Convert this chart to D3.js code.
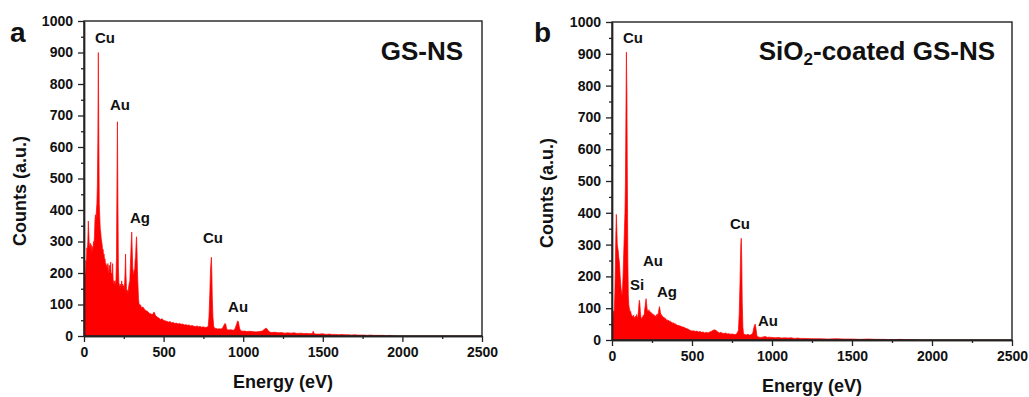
<!DOCTYPE html>
<html><head><meta charset="utf-8">
<script src="https://cdn.jsdelivr.net/npm/d3@7"></script>
<style>
body{margin:0;background:#fff}
svg{display:block}
text{font-family:"Liberation Sans",Arial,sans-serif;font-weight:bold;fill:#111}
</style>
</head><body>
<svg id="c" width="1029" height="397"></svg>
<script>
// ---- data: [energy (eV), counts] ----
const spectrumA = [
[0,175],[3,185],[6,200],[9,185],[12,240],[15,230],[18,280],[21,270],[24,300],[27,365],[30,330],[33,290],[36,280],[39,295],[42,270],[45,290],[48,260],[51,285],[54,265],[57,280],[60,300],[63,290],[66,320],[69,370],[72,385],[75,360],[78,400],[81,420],[84,480],[87,620],[90,900],[93,640],[96,420],[99,380],[102,340],[105,330],[108,310],[111,300],[114,290],[117,270],[120,275],[123,255],[126,260],[129,240],[132,245],[135,225],[138,230],[141,215],[144,225],[147,205],[150,230],[153,210],[156,195],[159,225],[162,200],[165,215],[168,235],[171,190],[174,200],[177,185],[180,230],[183,180],[186,170],[189,165],[192,175],[195,160],[198,170],[201,180],[204,250],[207,480],[210,680],[213,430],[216,220],[219,170],[222,160],[225,155],[228,165],[231,150],[234,160],[237,175],[240,155],[243,165],[246,150],[249,160],[252,145],[255,165],[258,200],[261,260],[264,190],[267,150],[270,140],[273,145],[276,135],[279,150],[282,160],[285,170],[288,175],[291,220],[294,260],[297,300],[300,330],[303,270],[306,220],[309,200],[312,190],[315,210],[318,200],[321,240],[324,250],[327,290],[330,315],[333,270],[336,200],[339,160],[342,120],[345,105],[348,98],[351,100],[354,95],[357,97],[360,90],
[370,92],[380,85],[390,80],[400,78],[410,72],[420,70],[430,68],[440,76],[450,64],[460,60],[470,57],[480,52],[490,55],[500,50],[510,48],[520,47],[530,44],[540,46],[550,42],[560,43],[570,40],[580,41],[590,38],[600,40],[610,37],[620,38],[630,35],[640,36],[650,34],[660,35],[670,32],[680,33],[690,31],[700,30],[710,32],[720,29],[730,30],[740,28],[750,29],[760,27],[770,28],[780,30],[785,60],[790,130],[795,215],[800,250],[803,200],[806,120],[810,60],[815,30],[820,25],[830,24],[840,22],[850,23],[860,22],[870,25],[880,35],[885,40],[890,38],[895,25],[900,20],[910,19],[920,20],[930,19],[940,18],[950,25],[960,40],[965,48],[970,45],[975,30],[980,20],[990,16],[1000,15],[1010,16],[1020,14],[1040,15],[1060,14],[1080,13],[1100,14],[1120,16],[1130,20],[1140,24],[1145,25],[1150,22],[1160,15],[1170,12],[1180,11],[1200,12],[1220,10],[1240,11],[1260,9],[1280,10],[1300,9],[1320,10],[1340,8],[1360,9],[1380,8],[1400,8],[1420,7],[1435,8],[1440,15],[1445,7],[1460,6],[1480,6],[1500,7],[1520,5],[1540,6],[1560,5],[1580,5],[1600,4],[1620,5],[1640,4],[1660,4],[1680,3],[1700,4],[1720,3],[1740,3],[1760,3],[1780,2],[1800,3],[1820,2],[1840,2],[1860,2],[1880,2],[1900,1],[1920,2],[1940,1],[1960,0],[2500,0]
];
const spectrumB = [
[0,75],[3,80],[6,70],[9,90],[12,85],[15,100],[18,150],[21,230],[24,330],[27,395],[30,350],[33,300],[36,290],[39,280],[42,260],[45,250],[48,230],[51,200],[54,180],[57,160],[60,150],[63,140],[66,160],[69,200],[72,250],[75,300],[78,350],[81,400],[84,500],[87,700],[90,905],[93,780],[96,500],[99,250],[102,140],[105,110],[108,100],[111,95],[114,85],[117,90],[120,78],[123,80],[126,72],[129,75],[132,70],[135,78],[138,65],[141,72],[144,68],[147,75],[150,70],[153,80],[156,72],[159,70],[162,75],[165,90],[168,110],[171,125],[174,115],[177,90],[180,75],[183,68],[186,65],[189,72],[192,70],[195,78],[198,72],[201,80],[204,95],[207,105],[210,120],[213,130],[216,115],[219,100],[222,90],[225,92],[228,88],[231,95],[234,85],[237,90],[240,82],[243,88],[246,80],[249,85],[252,78],[255,82],[258,76],[261,80],[264,74],[267,78],[270,72],[273,76],[276,70],[279,80],[282,75],[285,82],[288,78],[291,90],[294,98],[297,105],[300,95],[303,85],[306,78],[309,80],[312,74],[315,76],[320,70],[325,72],[330,66],[335,68],[340,62],[345,64],[350,60],[355,62],[360,57],[365,59],[370,55],[375,56],[380,52],[385,54],[390,50],[395,52],[400,48],[410,46],[420,45],[430,43],[440,41],[450,40],[460,37],[470,35],[480,33],[490,30],[500,28],[510,29],[520,27],[530,28],[540,25],[550,27],[560,24],[570,25],[580,22],[590,24],[600,22],[610,25],[620,27],[630,30],[640,32],[650,30],[660,26],[670,22],[680,24],[690,21],[700,20],[710,22],[720,19],[730,20],[740,18],[750,19],[760,18],[770,17],[780,20],[790,30],[795,80],[800,180],[805,300],[808,320],[811,250],[814,120],[818,40],[822,20],[830,17],[840,16],[850,18],[860,15],[870,17],[880,22],[885,35],[890,45],[895,50],[900,35],[905,15],[910,10],[920,9],[930,8],[940,9],[950,10],[960,11],[970,8],[980,9],[1000,8],[1020,7],[1040,8],[1060,6],[1080,7],[1100,6],[1120,7],[1140,5],[1160,6],[1180,5],[1200,5],[1250,4],[1300,4],[1350,3],[1400,4],[1450,3],[1500,3],[1550,2],[1600,3],[1650,2],[1700,2],[1750,1],[1800,2],[1850,1],[1900,1],[1920,0],[2500,0]
];
// peak annotations: [text, energy, counts] (anchor of text start / baseline)
const labelsA = [["Cu",69,930],["Au",163,717],["Ag",289,359],["Cu",747,295],["Au",905,76]];
const labelsB = [["Cu",69,933],["Au",194,233],["Si",112,157],["Ag",281,135],["Cu",737,349],["Au",912,44]];
const energyTicks = [0,500,1000,1500,2000,2500];
const energyMinor = [250,750,1250,1750,2250];
const countTicks = [0,100,200,300,400,500,600,700,800,900,1000];
const countMinor = [50,150,250,350,450,550,650,750,850,950];
const energyDomain = [0,2500];
const countDomain = [0,1000];
const xTitle = "Energy (eV)";
const yTitle = "Counts (a.u.)";

const panels = [
  {letter:"a", data:spectrumA, labels:labelsA, box:{l:84,r:482,t:21,b:336},
   letterPos:[10,42], yTitleX:26, yTitleY:191, xTitleY:388, titleOff:[19,39], title:[["GS-NS",0]]},
  {letter:"b", data:spectrumB, labels:labelsB, box:{l:612,r:1012,t:22,b:340},
   letterPos:[534,42], yTitleX:553, yTitleY:193, xTitleY:392, titleOff:[17,38], title:[["SiO",0],["2",1],["-coated GS-NS",0]]}
];

const svg = d3.select("#c");

panels.forEach((p,i) => {
  const b = p.box;
  const x = d3.scaleLinear().domain(energyDomain).range([b.l,b.r]);
  const y = d3.scaleLinear().domain(countDomain).range([b.b,b.t]);
  const g = svg.append("g");

  g.append("clipPath").attr("id","clip"+i).append("rect")
    .attr("x",b.l).attr("y",b.t).attr("width",b.r-b.l).attr("height",b.b-b.t);

  const area = d3.area().x(d=>x(d[0])).y0(y(0)).y1(d=>y(d[1]));
  const line = d3.line().x(d=>x(d[0])).y(d=>y(d[1]));
  g.append("path").datum(p.data).attr("clip-path","url(#clip"+i+")")
    .attr("d",area).attr("fill","#ff0000");
  g.append("path").datum(p.data).attr("clip-path","url(#clip"+i+")")
    .attr("d",line).attr("fill","none").attr("stroke","#ff0000").attr("stroke-width",0.7);

  // frame
  g.append("rect").attr("x",b.l).attr("y",b.t).attr("width",b.r-b.l).attr("height",b.b-b.t)
    .attr("fill","none").attr("stroke","#222").attr("stroke-width",1.4);

  const styleAxis = sel => {
    sel.select(".domain").attr("stroke","#222").attr("stroke-width",1.4);
    sel.selectAll(".tick line").attr("stroke","#222").attr("stroke-width",1.3);
    sel.selectAll("text").attr("font-size",14).attr("font-weight","bold")
      .attr("font-family",'"Liberation Sans",Arial,sans-serif').attr("fill","#111");
  };
  g.append("g").attr("transform",`translate(0,${b.b})`)
    .call(d3.axisBottom(x).tickValues(energyTicks).tickSize(6).tickSizeOuter(0).tickPadding(5).tickFormat(d3.format("d")))
    .call(styleAxis);
  g.append("g").attr("transform",`translate(0,${b.b})`)
    .call(d3.axisBottom(x).tickValues(energyMinor).tickSize(3).tickSizeOuter(0).tickFormat(""))
    .call(styleAxis);
  g.append("g").attr("transform",`translate(${b.l},0)`)
    .call(d3.axisLeft(y).tickValues(countTicks).tickSize(6).tickSizeOuter(0).tickPadding(5).tickFormat(d3.format("d")))
    .call(styleAxis);
  g.append("g").attr("transform",`translate(${b.l},0)`)
    .call(d3.axisLeft(y).tickValues(countMinor).tickSize(3).tickSizeOuter(0).tickFormat(""))
    .call(styleAxis);

  // axis titles
  g.append("text").attr("x",(b.l+b.r)/2).attr("y",p.xTitleY).attr("text-anchor","middle")
    .attr("font-size",18).text(xTitle);
  g.append("text").attr("transform",`translate(${p.yTitleX},${p.yTitleY}) rotate(-90)`)
    .attr("text-anchor","middle").attr("font-size",18).text(yTitle);

  // panel letter
  g.append("text").attr("x",p.letterPos[0]).attr("y",p.letterPos[1]).attr("font-size",28).text(p.letter);

  // sample title
  const t = g.append("text").attr("x",b.r-p.titleOff[0]).attr("y",b.t+p.titleOff[1])
    .attr("text-anchor","end").attr("font-size",26);
  p.title.forEach(([s,sub],k) => {
    const ts = t.append("tspan").text(s);
    if (sub) ts.attr("font-size",17).attr("dy",5);
    else if (k>0 && p.title[k-1][1]) ts.attr("dy",-5);
  });

  // peak labels
  g.selectAll("text.pk").data(p.labels).enter().append("text").attr("class","pk")
    .attr("x",d=>x(d[1])).attr("y",d=>y(d[2])).attr("font-size",15).text(d=>d[0]);
});
</script>
</body></html>
